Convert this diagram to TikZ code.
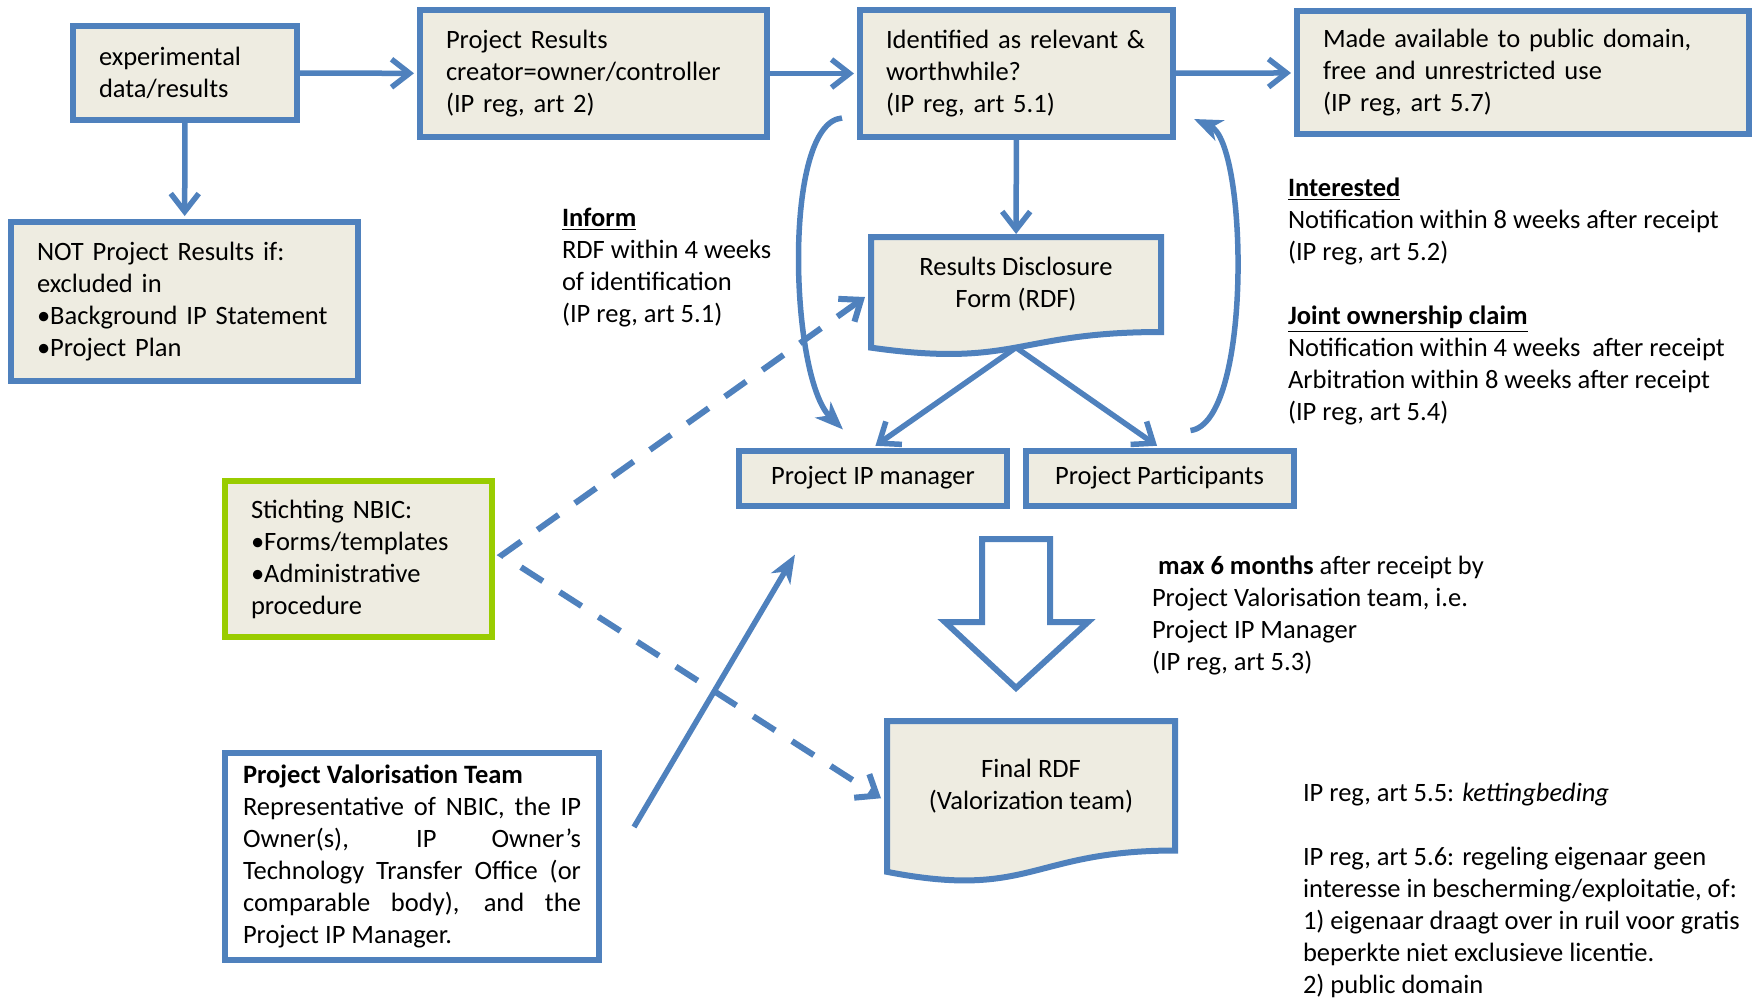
\documentclass[tikz,border=0pt]{standalone}
\usepackage{fontspec}
\setmainfont{Carlito}
\usetikzlibrary{%
  arrows.meta,%
  calc,%
  backgrounds,% wg. document shapes
  positioning%
}
\definecolor{ipblue}{RGB}{79,129,189}
\definecolor{ipfill}{RGB}{238,236,225}
\definecolor{ipgreen}{RGB}{153,204,0}
\newcommand{\justline}[1]{\makebox[169pt][s]{#1}}

\begin{document}
\begin{tikzpicture}[
  x=0.5pt, y=-0.5pt,
  font=\fontsize{13.25}{16}\selectfont,
  line width=3pt,
  box/.style={draw=ipblue, fill=ipfill, inner xsep=13pt, inner ysep=0pt, align=left},
  smallbox/.style={draw=ipblue, fill=ipfill, align=center, minimum width=134pt,
    minimum height=27.5pt, inner sep=0pt},
  docbox/.style={inner sep=0pt, align=center},
  note/.style={inner sep=0pt, align=left, anchor=west},
  barb/.style={draw=ipblue, line width=2.75pt, shorten >=1.5pt,
    -{Straight Barb[length=9pt,width=14pt]}},
  headline/.style={draw=ipblue, line width=2.75pt,
    -{Stealth[length=14pt,width=11pt,inset=4pt]}},
  dashline/.style={draw=ipblue, line width=3pt, dash pattern=on 13pt off 10pt,
    {Straight Barb[length=9pt,width=14pt]}-{Straight Barb[length=9pt,width=14pt]}},
]
\useasboundingbox (0,0) rectangle (1756,998);

% boxes
\node[box, text width=86pt, minimum height=47pt] (exp) at (185,73)
  {experimental\\data/results};
\node[box, text width=147.5pt, minimum height=63.5pt] (res) at (593.5,73.5)
  {Project Results\\creator=owner/controller\\(IP reg, art 2)};
\node[box, text width=130.5pt, minimum height=63.5pt] (ident) at (1016.5,73.5)
  {Identified as relevant \&\\worthwhile?\\(IP reg, art 5.1)};
\node[box, text width=200pt, minimum height=61.5pt] (avail) at (1523,72.5)
  {Made available to public domain,\\free and unrestricted use\\(IP reg, art 5.7)};
\node[box, text width=147.5pt, minimum height=79.5pt] (notres) at (184.5,301.5)
  {NOT Project Results if:\\excluded in\\•Background IP Statement\\•Project Plan};
\node[smallbox] (ipm) at (873,478) {Project IP manager};
\node[smallbox] (part) at (1159.5,478) {Project Participants};
\node[box, draw=ipgreen, text width=107.5pt, minimum height=78pt] (nbic) at (358.5,559)
  {Stichting NBIC:\\•Forms/templates\\•Administrative\\procedure};
\node[box, fill=white, align=justify, inner xsep=9pt, text width=169pt, minimum height=103.5pt]
  (valor) at (412,856.5)
  {\textbf{Project Valorisation Team}\\
   \justline{Representative of NBIC, the IP}\\
   \justline{Owner(s), IP Owner’s}\\
   \justline{Technology Transfer Office (or}\\
   \justline{comparable body), and the}\\
   Project IP Manager.};

\node[docbox, minimum width=142pt, minimum height=44.5pt] (rdf) at (1016,284.5)
  {Results Disclosure\\Form (RDF)};
\node[docbox, minimum width=141pt, minimum height=61.75pt] (final) at (1031,785.75)
  {Final RDF\\(Valorization team)};

\begin{scope}[on background layer]
\foreach \d in {rdf,final} {
  \draw[draw=ipblue, fill=ipfill, line width=3pt] (\d.north west) -- (\d.north east) -- (\d.south east)
    .. controls (\d.south) and ($(\d.north)!1.381!(\d.south)$)
    .. ($(\d.north west)!1.1646!(\d.south west)$) -- cycle;
}
\end{scope}

% texts
\node[note] (inform) at (559,267.5)
  {\underline{\textbf{Inform}}\\RDF within 4 weeks\\of identification\\(IP reg, art 5.1)};
\node[note] (interest) at (1285,301)
  {\underline{\textbf{Interested}}\\Notification within 8 weeks after receipt\\(IP reg, art 5.2)\\[16pt]
   \underline{\textbf{Joint ownership claim}}\\Notification within 4 weeks\ \ after receipt\\
   Arbitration within 8 weeks after receipt\\(IP reg, art 5.4)};
\node[note] (months) at (1149,615.5)
  {\hspace*{3pt}\textbf{max 6 months} after receipt by\\Project Valorisation team, i.e.\\
   Project IP Manager\\(IP reg, art 5.3)};
\node[note] (chain) at (1300,890)
  {IP reg, art 5.5: \textit{kettingbeding}\\[16pt]
   IP reg, art 5.6: regeling eigenaar geen\\interesse in bescherming/exploitatie, of:\\
   1) eigenaar draagt over in ruil voor gratis\\beperkte niet exclusieve licentie.\\
   2) public domain};

% connectors
\draw[barb] (exp) -- (res);
\draw[barb] (res) -- (ident);
\draw[barb] (ident) -- (avail);
\draw[barb] (exp) -- (notres);
\draw[barb] (ident) -- (rdf);
\coordinate (rdfbot) at ($(rdf.north)!1.163!(rdf.south)$);
\draw[barb] (rdfbot) -- (ipm.north);
\draw[barb] (rdfbot) -- (part.north);

\draw[headline] ($(ident.south west)+(-15,-22)$) .. controls +(-60,5) and +(-53,-52)
  .. ($(ipm.north)+(-30,-18)$);
\draw[headline] ($(part.north east)+(-106,-17)$) .. controls +(62,-8) and +(54,24)
  .. ($(ident.south east)+(18,-21)$);
\draw[headline] ($(valor.east)+(32,-29.5)$) -- ($(ipm.south west)+(59,46)$);

\draw[dashline] ($(rdf.west)+(-6,12.5)$) -- ($(nbic.east)+(7,-4)$) -- ($(final.west)+(-6,12.5)$);

% big arrow
\draw[draw=ipblue, line width=3pt] (982,539) -- (1050,539) -- (1050,622) -- (1088,622)
  -- (1016,688) -- (945,622) -- (982,622) -- cycle;

\end{tikzpicture}
\end{document}
